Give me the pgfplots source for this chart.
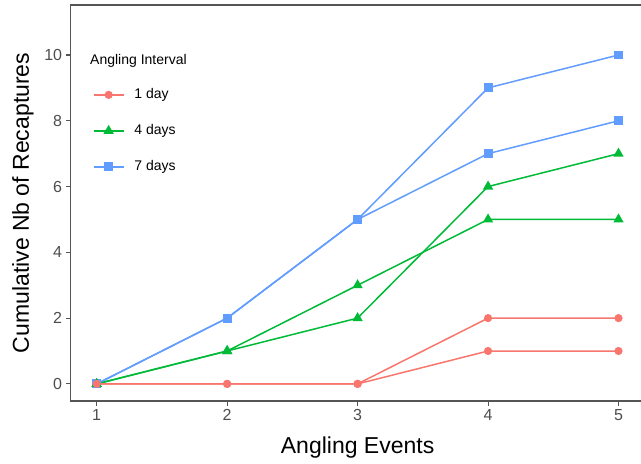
\documentclass[border=0pt]{standalone}
\usepackage{fontspec}
\setmainfont{Liberation Sans}
\usepackage{pgfplots}
\pgfplotsset{compat=1.18}
\definecolor{cred}{HTML}{F8766D}
\definecolor{cgreen}{HTML}{00BA38}
\definecolor{cblue}{HTML}{619CFF}
\definecolor{axgray}{HTML}{555555}
\definecolor{tickgray}{HTML}{4D4D4D}
\begin{document}
\begin{tikzpicture}
\begin{axis}[
  scale only axis, width=574bp, height=396bp,
  xmin=0.8, xmax=5.2, ymin=-0.52, ymax=11.52,
  axis line style={axgray, line width=1.1bp},
  xtick={1,2,3,4,5}, ytick={0,2,4,6,8,10},
  tick align=outside, tick pos=left,
  tick style={axgray, line width=1.1bp},
  major tick length=5bp,
  tick label style={font=\fontsize{16bp}{19bp}\selectfont, text=tickgray},
  /pgf/number format/assume math mode=true,
  xlabel={Angling Events}, ylabel={Cumulative Nb of Recaptures},
  label style={font=\fontsize{23bp}{27bp}\selectfont},
  xlabel style={at={(rel axis cs:0.5,-0.1338)}, anchor=base},
  ylabel style={at={(rel axis cs:-0.0725,0.5)}, anchor=base},
  legend style={at={(rel axis cs:0.0385,0.790)}, anchor=north west, draw=none, fill=none,
    inner sep=0pt, column sep=10bp, row sep=23bp,
    font=\fontsize{14bp}{16bp}\selectfont,
    nodes={inner sep=0pt, text height=10bp, text depth=3bp}},
  legend cell align=left,
  legend image code/.code={\draw[mark repeat=2,mark phase=2] plot coordinates {(0bp,0bp)(15bp,0bp)(30bp,0bp)};},
  every axis plot/.append style={line width=1.5bp},
]
\addplot[cred, mark=*, mark size=3.3bp] coordinates {(1,0)(2,0)(3,0)(4,2)(5,2)};
\addlegendentry{1 day}
\addplot[cgreen, mark=triangle*, mark size=4.5bp] coordinates {(1,0)(2,1)(3,3)(4,5)(5,5)};
\addlegendentry{4 days}
\addplot[cblue, mark=square*, mark size=3.7bp] coordinates {(1,0)(2,2)(3,5)(4,9)(5,10)};
\addlegendentry{7 days}
\addplot[cblue, mark=square*, mark size=3.7bp, forget plot] coordinates {(1,0)(2,2)(3,5)(4,7)(5,8)};
\addplot[cgreen, mark=triangle*, mark size=4.5bp, forget plot] coordinates {(1,0)(2,1)(3,2)(4,6)(5,7)};
\addplot[cred, mark=*, mark size=3.3bp, forget plot] coordinates {(1,0)(2,0)(3,0)(4,1)(5,1)};
\node[anchor=base west, inner sep=0pt, font=\fontsize{14bp}{16bp}\selectfont] at (rel axis cs:0.0338,0.850) {Angling Interval};
\coordinate (bl) at (rel axis cs:0,0);
\end{axis}
\pgfresetboundingbox
\path (bl) ++(-70.6bp,-63bp) rectangle ++(641bp,464bp);
\end{tikzpicture}
\end{document}
